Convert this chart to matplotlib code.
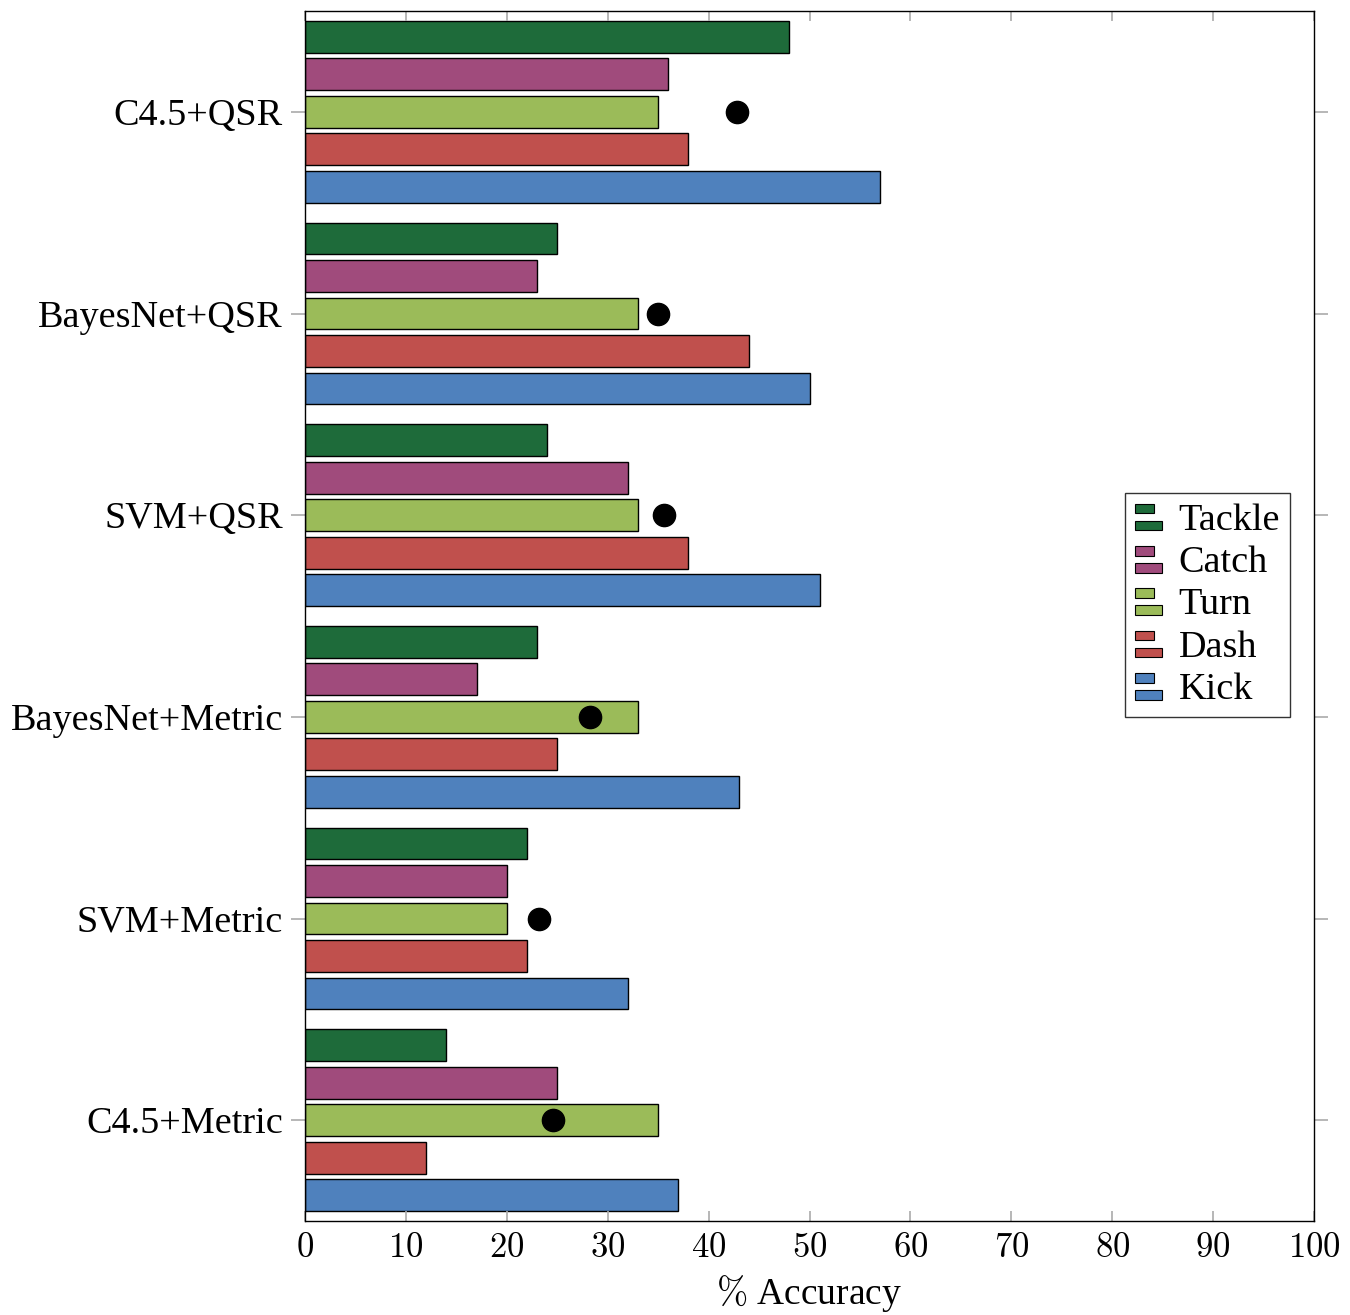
import numpy as np
import matplotlib
matplotlib.use('Agg')
import matplotlib.pyplot as plt
from matplotlib.patches import Rectangle
from matplotlib.legend_handler import HandlerBase

plt.rcParams['font.family'] = ['Liberation Serif', 'DejaVu Serif']
plt.rcParams['mathtext.fontset'] = 'cm'

#data
methods = ['C4.5+QSR', 'BayesNet+QSR', 'SVM+QSR', 'BayesNet+Metric', 'SVM+Metric', 'C4.5+Metric']
actions = ['Tackle', 'Catch', 'Turn', 'Dash', 'Kick']
tackle = [48, 25, 24, 23, 22, 14]
catch = [36, 23, 32, 17, 20, 25]
turn = [35, 33, 33, 33, 20, 35]
dash = [38, 44, 38, 25, 22, 12]
kick = [57, 50, 51, 43, 32, 37]
mean_acc = [42.8, 35.0, 35.6, 28.2, 23.2, 24.6]
colors = ['#1e6b3a', '#a04b7c', '#9bbb59', '#c0504d', '#4f81bd']

xticks = list(range(0, 101, 10))


class TwoBarHandler(HandlerBase):
    #pgfplots style legend glyph: short bar over a longer bar
    def create_artists(self, legend, orig_handle, xdescent, ydescent,
                       width, height, fontsize, trans):
        fc = orig_handle.get_facecolor()
        h = height * 0.36
        r1 = Rectangle((-xdescent, -ydescent + height * 0.62), width * 0.7, h,
                       facecolor=fc, edgecolor='black', lw=0.8, transform=trans)
        r2 = Rectangle((-xdescent, -ydescent - height * 0.02), width, h,
                       facecolor=fc, edgecolor='black', lw=0.8, transform=trans)
        return [r1, r2]


fig = plt.figure(figsize=(13.5, 13.15), dpi=100)
ax = fig.add_axes([305/1350, 1 - 1221/1315, (1314-305)/1350, (1221-11)/1315])

ypos = np.arange(len(methods))[::-1]
step = 0.186
hbar = 0.158
series = [tackle, catch, turn, dash, kick]
handles = []
for i, (vals, c, name) in enumerate(zip(series, colors, actions)):
    off = (2 - i) * step
    b = ax.barh(ypos + off, vals, height=hbar, color=c, edgecolor='black',
                linewidth=1.0, label=name)
    handles.append(b.patches[0])

ax.plot(mean_acc, ypos, 'o', color='black', markersize=16, zorder=5)

ax.set_xlim(0, 100)
ax.set_ylim(-0.5, 5.5)
ax.set_xticks(xticks)
ax.set_xticklabels(['$%d$' % t for t in xticks])
ax.set_yticks(ypos)
ax.set_yticklabels(methods)
ax.tick_params(axis='x', direction='in', top=True, length=7, width=1.2,
               color='#aaaaaa', labelsize=25, pad=8)
ax.tick_params(axis='y', direction='out', right=True, length=10, width=1.2,
               color='#aaaaaa', labelsize=27.5, pad=6)
ax.set_xlabel(r'$\%$ Accuracy', fontsize=27, labelpad=6)
for s in ax.spines.values():
    s.set_linewidth(1.0)

leg = ax.legend(handles, actions, loc='center right', bbox_to_anchor=(0.976, 0.509),
                fontsize=27.5, frameon=True, fancybox=False, edgecolor='black',
                handler_map={h: TwoBarHandler() for h in handles},
                handlelength=0.7, handleheight=0.7, handletextpad=0.45,
                labelspacing=0.2, borderpad=0.25, borderaxespad=0)
leg.get_frame().set_linewidth(1.0)

fig.savefig('out.png', dpi=100)
